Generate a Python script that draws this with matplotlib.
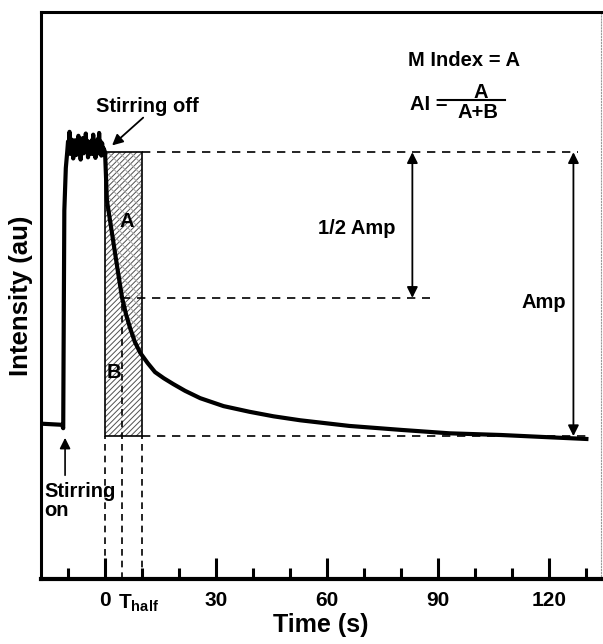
import matplotlib.pyplot as plt
from matplotlib.patches import Rectangle

plt.rcParams['font.family'] = 'Liberation Sans'
plt.rcParams['font.weight'] = 'bold'
plt.rcParams['mathtext.fontset'] = 'custom'
plt.rcParams['mathtext.rm'] = 'Liberation Sans'
plt.rcParams['mathtext.bf'] = 'Liberation Sans:bold'
plt.rcParams['hatch.linewidth'] = 0.7

# trace: time (s) vs intensity (au, 0-100 scale)
base_t = [-17.3, -11.6, -11.3]
base_i = [27.4, 27.2, 26.6]
rise_t = [-11.2, -11.0, -10.6, -10.2]
rise_i = [40.0, 65.0, 72.5, 75.5]
plateau_t = [-10.0, -9.8, -9.6, -9.4, -9.2, -9.0, -8.8, -8.6, -8.4, -8.2,
             -8.0, -7.8, -7.6, -7.4, -7.2, -7.0, -6.8, -6.6, -6.4, -6.2,
             -6.0, -5.8, -5.6, -5.4, -5.2, -5.0, -4.8, -4.6, -4.4, -4.2,
             -4.0, -3.8, -3.6, -3.4, -3.2, -3.0, -2.8, -2.6, -2.4, -2.2,
             -2.0, -1.8, -1.6, -1.4, -1.2, -1.0, -0.8, -0.6, -0.4]
plateau_i = [77.2, 75.4, 78.9, 75.0, 77.6, 75.6, 77.0, 74.2, 77.4, 75.5,
             76.8, 74.8, 77.5, 75.8, 78.2, 75.2, 77.0, 74.0, 76.9, 75.6,
             77.8, 75.1, 76.7, 75.8, 78.6, 75.3, 77.3, 74.4, 77.1, 75.7,
             76.9, 75.0, 77.4, 75.5, 78.4, 74.9, 77.0, 74.3, 76.8, 75.6,
             77.6, 75.1, 78.7, 75.4, 77.2, 74.7, 76.9, 75.5, 76.0]
decay_t = [0.0, 0.5, 1.4, 2.7, 3.6, 4.6, 5.7, 6.8, 8.0, 9.5, 11.5, 13.5,
           15.9, 18.4, 21.6, 25.7, 32.0, 39.0, 45.5, 52.7, 66.0, 80.0,
           93.0, 107.0, 120.0, 130.0]
decay_i = [75.3, 66.8, 63.0, 57.5, 53.7, 49.6, 46.6, 44.2, 41.9, 39.9,
           38.1, 36.5, 35.4, 34.4, 33.2, 31.9, 30.5, 29.5, 28.7, 28.0,
           27.0, 26.3, 25.7, 25.4, 25.0, 24.7]

t_off, t_half, t_box = 0.0, 4.6, 10.0
amp_top, amp_half, amp_bottom = 75.3, 49.6, 25.2

major_ticks = [0, 30, 60, 90, 120]
minor_ticks = [-10, 10, 20, 40, 50, 70, 80, 100, 110, 130]

fig = plt.figure(figsize=(6.03, 6.44), dpi=100)
ax = fig.add_axes([0.068, 0.101, 0.929, 0.880])
ax.set_xlim(-17.3, 134.0)
ax.set_ylim(0, 100)

# hatched A/B box
ax.add_patch(Rectangle((t_off, amp_bottom), t_box - t_off, amp_top - amp_bottom,
                       facecolor='white', edgecolor='#505050', hatch='//////', lw=0, zorder=1))
clip_box = Rectangle((t_off, amp_bottom), t_box - t_off, amp_top - amp_bottom,
                     transform=ax.transData)
region_a = ax.fill_between(decay_t, decay_i, amp_top, facecolor='none',
                           edgecolor='#a8a8a8', hatch='\\\\\\', lw=0, zorder=1.5)
region_a.set_clip_path(clip_box)
ax.add_patch(Rectangle((t_off, amp_bottom), t_box - t_off, amp_top - amp_bottom,
                       fill=False, edgecolor='black', lw=1.2, zorder=2))

# trace
ax.plot(base_t + rise_t + plateau_t + decay_t,
        base_i + rise_i + plateau_i + decay_i,
        color='black', lw=3, solid_joinstyle='round', zorder=3)

# guide lines
dash = dict(color='black', lw=1.2, ls=(0, (5, 4)), zorder=2)
ax.plot([t_box, 127.8], [amp_top, amp_top], **dash)
ax.plot([t_box, 130.0], [amp_bottom, amp_bottom], **dash)
ax.plot([t_half, 87.8], [amp_half, amp_half], **dash)
vdash = dict(color='black', lw=1.2, ls=(0, (4, 3)), zorder=2)
for t in [t_off, t_box]:
    ax.plot([t, t], [0, amp_bottom], **vdash)
ax.plot([t_half, t_half], [0, amp_half], **vdash)

# amplitude arrows
arr = dict(arrowstyle='<|-|>', color='black', lw=1.3, mutation_scale=16, shrinkA=0, shrinkB=0)
ax.annotate('', xy=(83.0, amp_top), xytext=(83.0, amp_half), arrowprops=arr)
ax.annotate('', xy=(126.5, amp_top), xytext=(126.5, amp_bottom), arrowprops=arr)

fs = 14.5
ax.text(57.5, 61.8, '1/2 Amp', fontsize=fs, ha='left', va='center')
ax.text(124.5, 48.8, 'Amp', fontsize=fs, ha='right', va='center')
ax.text(5.9, 63.0, 'A', fontsize=fs, ha='center', va='center')
ax.text(2.4, 36.4, 'B', fontsize=fs, ha='center', va='center')

# stirring annotations
ax.text(11.4, 83.4, 'Stirring off', fontsize=fs, ha='center', va='center')
ax.annotate('', xy=(1.9, 76.5), xytext=(10.3, 81.4),
            arrowprops=dict(arrowstyle='-|>', color='black', lw=1.3, mutation_scale=16,
                            shrinkA=0, shrinkB=0))
ax.annotate('', xy=(-10.8, 24.9), xytext=(-10.8, 18.3),
            arrowprops=dict(arrowstyle='-|>', color='black', lw=1.2, mutation_scale=16,
                            shrinkA=0, shrinkB=0))
ax.text(-16.3, 13.8, 'Stirring\non', fontsize=fs, ha='left', va='center', linespacing=1.0)

# index formulas
ax.text(81.9, 91.5, 'M Index = A', fontsize=fs, ha='left', va='center')
ax.text(82.4, 83.7, 'AI =', fontsize=fs, ha='left', va='center')
ax.text(101.4, 85.8, 'A', fontsize=fs, ha='center', va='center')
ax.plot([90.5, 108.1], [84.5, 84.5], color='black', lw=1.5)
ax.text(100.8, 82.3, 'A+B', fontsize=fs, ha='center', va='center')

# axes styling
for side, w in [('left', 2.2), ('bottom', 3.0), ('top', 2.2)]:
    ax.spines[side].set_linewidth(w)
ax.spines['right'].set_linewidth(0.8)
ax.spines['right'].set_color('#9a9a9a')
ax.spines['right'].set_linestyle(':')

ax.set_yticks([])
ax.set_xticks(major_ticks)
ax.set_xticks(minor_ticks, minor=True)
ax.set_xticklabels([str(v) for v in major_ticks])
ax.tick_params(axis='x', which='major', direction='in', length=15, width=2.2,
               labelsize=15, pad=9)
ax.tick_params(axis='x', which='minor', direction='in', length=8, width=2.2)
ax.text(t_half - 1.2, -0.052, r'$\mathbf{T}_{\mathrm{half}}$', fontsize=15,
        ha='left', va='baseline', transform=ax.get_xaxis_transform())

ax.set_xlabel('Time (s)', fontsize=18, fontweight='bold', labelpad=2)
ax.set_ylabel('Intensity (au)', fontsize=18.5, fontweight='bold', labelpad=6)

fig.savefig('out.png', dpi=100)
